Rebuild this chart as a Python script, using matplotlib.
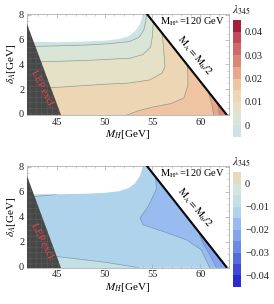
import numpy as np
import matplotlib
matplotlib.use('Agg')
import matplotlib.pyplot as plt
from matplotlib.patches import Polygon
from matplotlib.colors import ListedColormap, BoundaryNorm
import matplotlib.cm as cm
from matplotlib.ticker import MultipleLocator

plt.rcParams['font.family'] = 'Liberation Serif'
plt.rcParams['mathtext.fontset'] = 'stix'
plt.rcParams['hatch.linewidth'] = 0.4
plt.rcParams['hatch.color'] = '#5c5c5c'

# ---- values ----
# upper edge of the coloured region (white above it)
edge_mh = [41.8, 42.9, 45, 48, 50, 51.5, 52.5, 53.2, 53.7, 54.0, 54.05]
edge_d = [5.8, 5.82, 5.8, 5.85, 5.92, 6.05, 6.3, 6.7, 7.3, 8.0, 8.2]
# M_A = M_h/2 line
diag_mh = [54.3, 62.8]
diag_d = [8.2, -0.1]
# LEP exclusion
lep_mh = [41.87, 41.87, 45.4]
lep_d = [7.26, -0.1, -0.1]

# upper panel: lambda_345 levels, band colours, contour lines
top_levels = [-0.005, 0, 0.005, 0.01, 0.015, 0.02, 0.025, 0.03, 0.035, 0.04, 0.045]
top_colors = ['#cde3e3', '#d9e5d6', '#e5e1c6', '#edd6b4', '#efc4a2',
              '#e8a68b', '#dc8677', '#cf6a6a', '#bf4c59', '#a51e3a']
top_ticks = [0, 0.01, 0.02, 0.03, 0.04]
top_ticklabels = ['0', '0.01', '0.02', '0.03', '0.04']
top_base = 0
t_l0_mh = [41.8, 45, 48, 50.5, 52.6, 53.6, 54.1, 54.3, 54.4]
t_l0_d = [5.45, 5.5, 5.57, 5.68, 5.85, 6.2, 6.8, 7.5, 8.2]
t_l1_mh = [41.8, 45, 48, 50.5, 52.6, 54.0, 54.8, 55.0, 55.1]
t_l1_d = [4.2, 4.25, 4.32, 4.42, 4.5, 4.8, 5.4, 6.3, 7.6]
t_l2_mh = [41.8, 44, 47, 50, 52.6, 54.7, 56.0, 56.3, 56.2, 56.0]
t_l2_d = [2.05, 2.1, 2.25, 2.4, 2.5, 2.75, 3.3, 3.8, 5.0, 6.6]
t_l3_mh = [52.3, 53.5, 55, 57, 58.3, 58.7, 58.7, 58.6]
t_l3_d = [-0.1, 0.25, 0.55, 0.85, 1.3, 2.3, 3.3, 4.2]
t_l4_mh = [61.4, 61.2, 60.8, 60.6]
t_l4_d = [-0.1, 0.8, 1.9, 2.3]
t_l5_mh = [62.0, 61.9, 61.7]
t_l5_d = [-0.1, 0.5, 1.1]

# lower panel
bot_levels = [-0.045, -0.04, -0.035, -0.03, -0.025, -0.02, -0.015, -0.01, -0.005, 0, 0.005]
bot_colors = ['#2c2bd0', '#3d4bd8', '#546be0', '#6c8ae6', '#83a5ec',
              '#98bcef', '#aed3eb', '#c4e0e4', '#d4e5dc', '#e5dcc0']
bot_ticks = [-0.04, -0.03, -0.02, -0.01, 0]
bot_ticklabels = ['\u22120.04', '\u22120.03', '\u22120.02', '\u22120.01', '0']
bot_base = 6
b_m1_mh = [41.8, 45, 50, 53.6]
b_m1_d = [1.1, 0.8, 0.35, -0.1]
b_m1t_mh = [41.8, 43, 44.5, 45.8]
b_m1t_d = [5.55, 5.65, 5.75, 5.95]
b_m2_mh = [61.0, 60.1, 58.55, 56.1, 54.0, 53.7, 54.55, 55.4, 55.3]
b_m2_d = [-0.1, 1.35, 2.15, 2.82, 3.36, 3.9, 4.84, 6.19, 7.6]
b_m3_mh = [61.7, 61.0, 60.2, 59.7]
b_m3_d = [-0.1, 0.9, 2.0, 3.0]

xlim = (41.87, 63.0)
ylim = (-0.08, 8.08)


def close_side(xs, ys, side):
    pts = list(zip(xs, ys))
    if side == 'right':
        pts += [(70, ys[-1]), (70, -1), (xs[0], -1)]
    elif side == 'below':
        pts += [(xs[-1], -1), (xs[0], -1)]
    else:
        pts += [(xs[-1], 9), (xs[0], 9)]
    return pts


def panel(ax, cax, colors, levels, base, lines, ticks, ticklabels, lcol):
    dom = list(zip(edge_mh, edge_d)) + [(diag_mh[0], diag_d[0]), (diag_mh[1], diag_d[1]), (41.8, -0.1)]
    clip = Polygon(dom, closed=True, facecolor=colors[base], edgecolor='none', zorder=1)
    ax.add_patch(clip)
    for xs, ys, idx, side in lines:
        p = Polygon(close_side(xs, ys, side), closed=True, facecolor=colors[idx],
                    edgecolor='none', zorder=2)
        ax.add_patch(p)
        p.set_clip_path(clip)
        ln, = ax.plot(xs, ys, color=lcol, lw=0.5, alpha=0.8, zorder=3)
        ln.set_clip_path(clip)

    ax.add_patch(Polygon(list(zip(lep_mh, lep_d)), closed=True, facecolor='#474747',
                         edgecolor='#5c5c5c', hatch='+++', lw=0, zorder=5))
    ax.text(43.45, 2.0, 'LEP excl.', color='#e8444e', fontsize=7.5, rotation=-63,
            ha='center', va='center', zorder=6)
    ax.plot(diag_mh, diag_d, color='black', lw=1.5, zorder=6, solid_capstyle='butt')
    ax.plot(diag_mh, diag_d, color='#777777', lw=0.3, ls=(0, (1, 3)), zorder=7)
    ax.text(55.75, 7.45, r'$\mathrm{M_{H^{\pm}}}$=120 GeV', fontsize=7.5, ha='left', va='center', zorder=6)
    ax.text(59.4, 4.75, r'$\mathrm{M_A=M_h/2}$', fontsize=7.5, rotation=-50,
            ha='center', va='center', zorder=6)

    ax.set_xlim(*xlim)
    ax.set_ylim(*ylim)
    ax.set_xticks([45, 50, 55, 60])
    ax.set_yticks([0, 2, 4, 6, 8])
    ax.xaxis.set_minor_locator(MultipleLocator(1))
    ax.yaxis.set_minor_locator(MultipleLocator(0.5))
    ax.tick_params(which='both', direction='in', top=True, right=True, color='#a8a8a8',
                   labelsize=7.5, labelcolor='#222222', pad=2)
    ax.tick_params(which='major', length=3, width=0.5)
    ax.tick_params(which='minor', length=1.6, width=0.4)
    for s in ax.spines.values():
        s.set_color('#b0b0b0')
        s.set_linewidth(0.6)
    ax.set_xlabel(r'$M_H$[GeV]', fontsize=8, labelpad=1)
    ax.set_ylabel(r'$\delta_A$[GeV]', fontsize=8, labelpad=1)

    sm = cm.ScalarMappable(norm=BoundaryNorm(levels, len(colors)), cmap=ListedColormap(colors))
    cb = plt.colorbar(sm, cax=cax, ticks=ticks)
    cb.set_ticklabels(ticklabels)
    cb.minorticks_off()
    cb.outline.set_visible(False)
    cax.tick_params(which='both', length=0, labelsize=7.5, pad=3, labelcolor='#222222')
    cax.text(1.1, 1.03, r'$\lambda_{345}$', fontsize=8, transform=cax.transAxes,
             ha='center', va='bottom')


fig = plt.figure(figsize=(2.74, 3.04), dpi=100)
ax1 = fig.add_axes([0.0985, 0.622, 0.737, 0.332])
cax1 = fig.add_axes([0.850, 0.549, 0.029, 0.385])
ax2 = fig.add_axes([0.0985, 0.120, 0.737, 0.334])
cax2 = fig.add_axes([0.850, 0.056, 0.029, 0.378])

top_lines = [(t_l0_mh, t_l0_d, 1, 'right'), (t_l1_mh, t_l1_d, 2, 'right'),
             (t_l2_mh, t_l2_d, 3, 'right'), (t_l3_mh, t_l3_d, 4, 'right'),
             (t_l4_mh, t_l4_d, 5, 'right'), (t_l5_mh, t_l5_d, 6, 'right')]
panel(ax1, cax1, top_colors, top_levels, top_base, top_lines, top_ticks, top_ticklabels, '#7f8a86')

bot_lines = [(b_m1_mh, b_m1_d, 7, 'below'), (b_m1t_mh, b_m1t_d, 7, 'above'),
             (b_m2_mh, b_m2_d, 5, 'right'), (b_m3_mh, b_m3_d, 4, 'right')]
panel(ax2, cax2, bot_colors, bot_levels, bot_base, bot_lines, bot_ticks, bot_ticklabels, '#6d8aa8')

fig.savefig('out.png', dpi=100)
